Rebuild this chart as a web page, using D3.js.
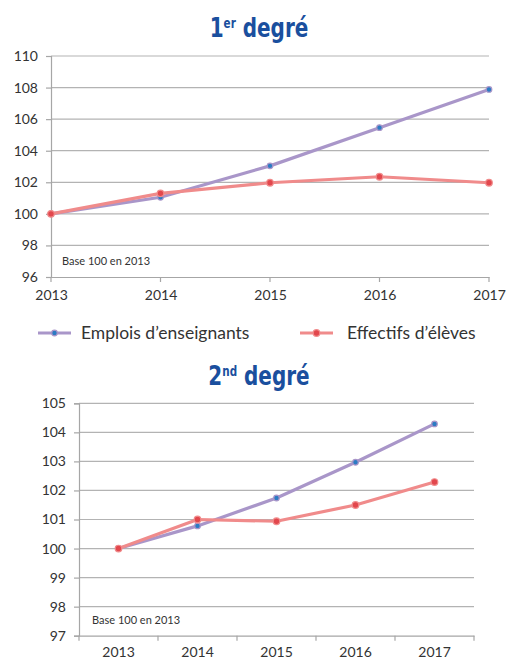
<!DOCTYPE html>
<html>
<head>
<meta charset="utf-8">
<script src="https://cdn.jsdelivr.net/npm/d3@7"></script>
<style>
  body { margin: 0; background: #fff; }
  svg { display: block; }
</style>
</head>
<body>
<div id="chart"></div>
<script>
// valeurs (base 100 en 2013)
const years = ["2013", "2014", "2015", "2016", "2017"];
const emplois1 = [100, 101.05, 103.04, 105.46, 107.88];
const eleves1 = [100, 101.3, 101.97, 102.35, 101.97];
const emplois2 = [100, 100.78, 101.74, 102.97, 104.29];
const eleves2 = [100, 101.0, 100.94, 101.5, 102.29];
const ticks1 = [96, 98, 100, 102, 104, 106, 108, 110];
const ticks2 = [97, 98, 99, 100, 101, 102, 103, 104, 105];
const seriesNames = ["Emplois d\u2019enseignants", "Effectifs d\u2019\u00e9l\u00e8ves"];

const W = 518, H = 660;
const purple = "#a996c9", red = "#f08b8b";
const blueDot = "#2b7bc3", redDot = "#e2474d";
const grid = "#b3b3b3", axisCol = "#a6a6a6";
const txt = "#333";
const font = "Lato, 'Open Sans', sans-serif";
const titleFont = "'Liberation Sans Narrow', 'DejaVu Sans', sans-serif";

const svg = d3.select("#chart").append("svg")
  .attr("width", W).attr("height", H);

// titre en gras serre : on comprime en largeur
function title(y, main, sup) {
  const t = svg.append("text")
    .attr("x", 0).attr("y", 0)
    .attr("text-anchor", "middle")
    .attr("transform", "translate(259," + y + ") scale(0.8,1.05)")
    .style("font-family", titleFont)
    .style("font-weight", "bold")
    .style("font-size", "25px")
    .style("fill", "#1a4f9e");
  t.append("tspan").text(main);
  t.append("tspan").attr("dy", -9).style("font-size", "13px").text(sup);
  t.append("tspan").attr("dy", 9).text(" degr\u00e9");
}

function panel(opt) {
  const g = svg.append("g");
  const y = d3.scaleLinear().domain(opt.domain).range([opt.bottom, opt.top]);
  let x, xTick;
  if (opt.band) {
    x = d3.scaleBand().domain(years).range([opt.left, opt.right]);
    xTick = d => x(d) + x.bandwidth() / 2;
  } else {
    x = d3.scalePoint().domain(years).range([opt.left, opt.right]);
    xTick = d => x(d);
  }

  // gridlines
  g.selectAll(".grid").data(opt.ticks.slice(1)).join("line")
    .attr("x1", opt.left).attr("x2", opt.right)
    .attr("y1", d => y(d)).attr("y2", d => y(d))
    .style("stroke", grid).style("stroke-width", 1.2);

  // y axis
  const ya = g.append("g")
    .attr("transform", "translate(" + opt.left + ",0)")
    .call(d3.axisLeft(y).tickValues(opt.ticks).tickSize(5).tickPadding(8).tickFormat(d3.format("d")));
  ya.select(".domain").style("stroke", axisCol).style("stroke-width", 1.2);
  ya.selectAll(".tick line").style("stroke", axisCol).style("stroke-width", 1.2);
  ya.selectAll("text").style("font-family", font).style("font-size", "14px").style("fill", txt);

  // x axis
  const xa = g.append("g")
    .attr("transform", "translate(0," + opt.bottom + ")")
    .call(d3.axisBottom(x).tickSize(0).tickPadding(opt.xPad));
  xa.select(".domain").style("stroke", axisCol).style("stroke-width", 1.2);
  xa.selectAll("text").style("font-family", font).style("font-size", "14px").style("fill", txt);
  if (opt.band) {
    xa.selectAll(".tick text").attr("x", 0);
    const edges = years.map(d => x(d)).concat([opt.right]);
    g.selectAll(".xt").data(edges).join("line")
      .attr("x1", d => d).attr("x2", d => d)
      .attr("y1", opt.bottom).attr("y2", opt.bottom + 5)
      .style("stroke", axisCol).style("stroke-width", 1.2);
  } else {
    g.selectAll(".xt").data(years).join("line")
      .attr("x1", d => x(d)).attr("x2", d => x(d))
      .attr("y1", opt.bottom).attr("y2", opt.bottom + 5)
      .style("stroke", axisCol).style("stroke-width", 1.2);
  }

  g.append("text")
    .attr("x", opt.noteX).attr("y", opt.bottom - 12)
    .style("font-family", font).style("font-size", "11px").style("fill", txt)
    .text("Base 100 en 2013");

  const line = d3.line().x((d, i) => xTick(years[i])).y(d => y(d));
  const series = [
    { vals: opt.emplois, col: purple, dot: blueDot, r: 2.8 },
    { vals: opt.eleves, col: red, dot: redDot, r: 3.3 }
  ];
  series.forEach(s => {
    g.append("path").datum(s.vals)
      .attr("d", line)
      .style("fill", "none").style("stroke", s.col)
      .style("stroke-width", 3.2).style("stroke-linejoin", "round");
    g.selectAll(null).data(s.vals).join("circle")
      .attr("cx", (d, i) => xTick(years[i])).attr("cy", d => y(d))
      .attr("r", s.r)
      .style("fill", s.dot).style("stroke", s.col).style("stroke-width", 1.2);
  });
}

title(37, "1", "er");
panel({
  domain: [96, 110], ticks: ticks1, top: 56, bottom: 277,
  left: 51, right: 489, band: false, xPad: 13,
  emplois: emplois1, eleves: eleves1, noteX: 62
});

// legende
const leg = svg.append("g");
[[38, 81], [300, 347]].forEach((p, i) => {
  const col = i == 0 ? purple : red;
  leg.append("line")
    .attr("x1", p[0]).attr("x2", p[0] + 33)
    .attr("y1", 333).attr("y2", 333)
    .style("stroke", col).style("stroke-width", 3.2);
  leg.append("circle")
    .attr("cx", p[0] + 16.5).attr("cy", 333).attr("r", i == 0 ? 2.8 : 3.3)
    .style("fill", i == 0 ? blueDot : redDot).style("stroke", col).style("stroke-width", 1.2);
  leg.append("text")
    .attr("x", p[1]).attr("y", 339)
    .style("font-family", font).style("font-size", "17.5px").style("fill", txt)
    .text(seriesNames[i]);
});

title(385, "2", "nd");
panel({
  domain: [97, 105], ticks: ticks2, top: 403.3, bottom: 635.7,
  left: 79, right: 474, band: true, xPad: 11,
  emplois: emplois2, eleves: eleves2, noteX: 92
});
</script>
</body>
</html>
